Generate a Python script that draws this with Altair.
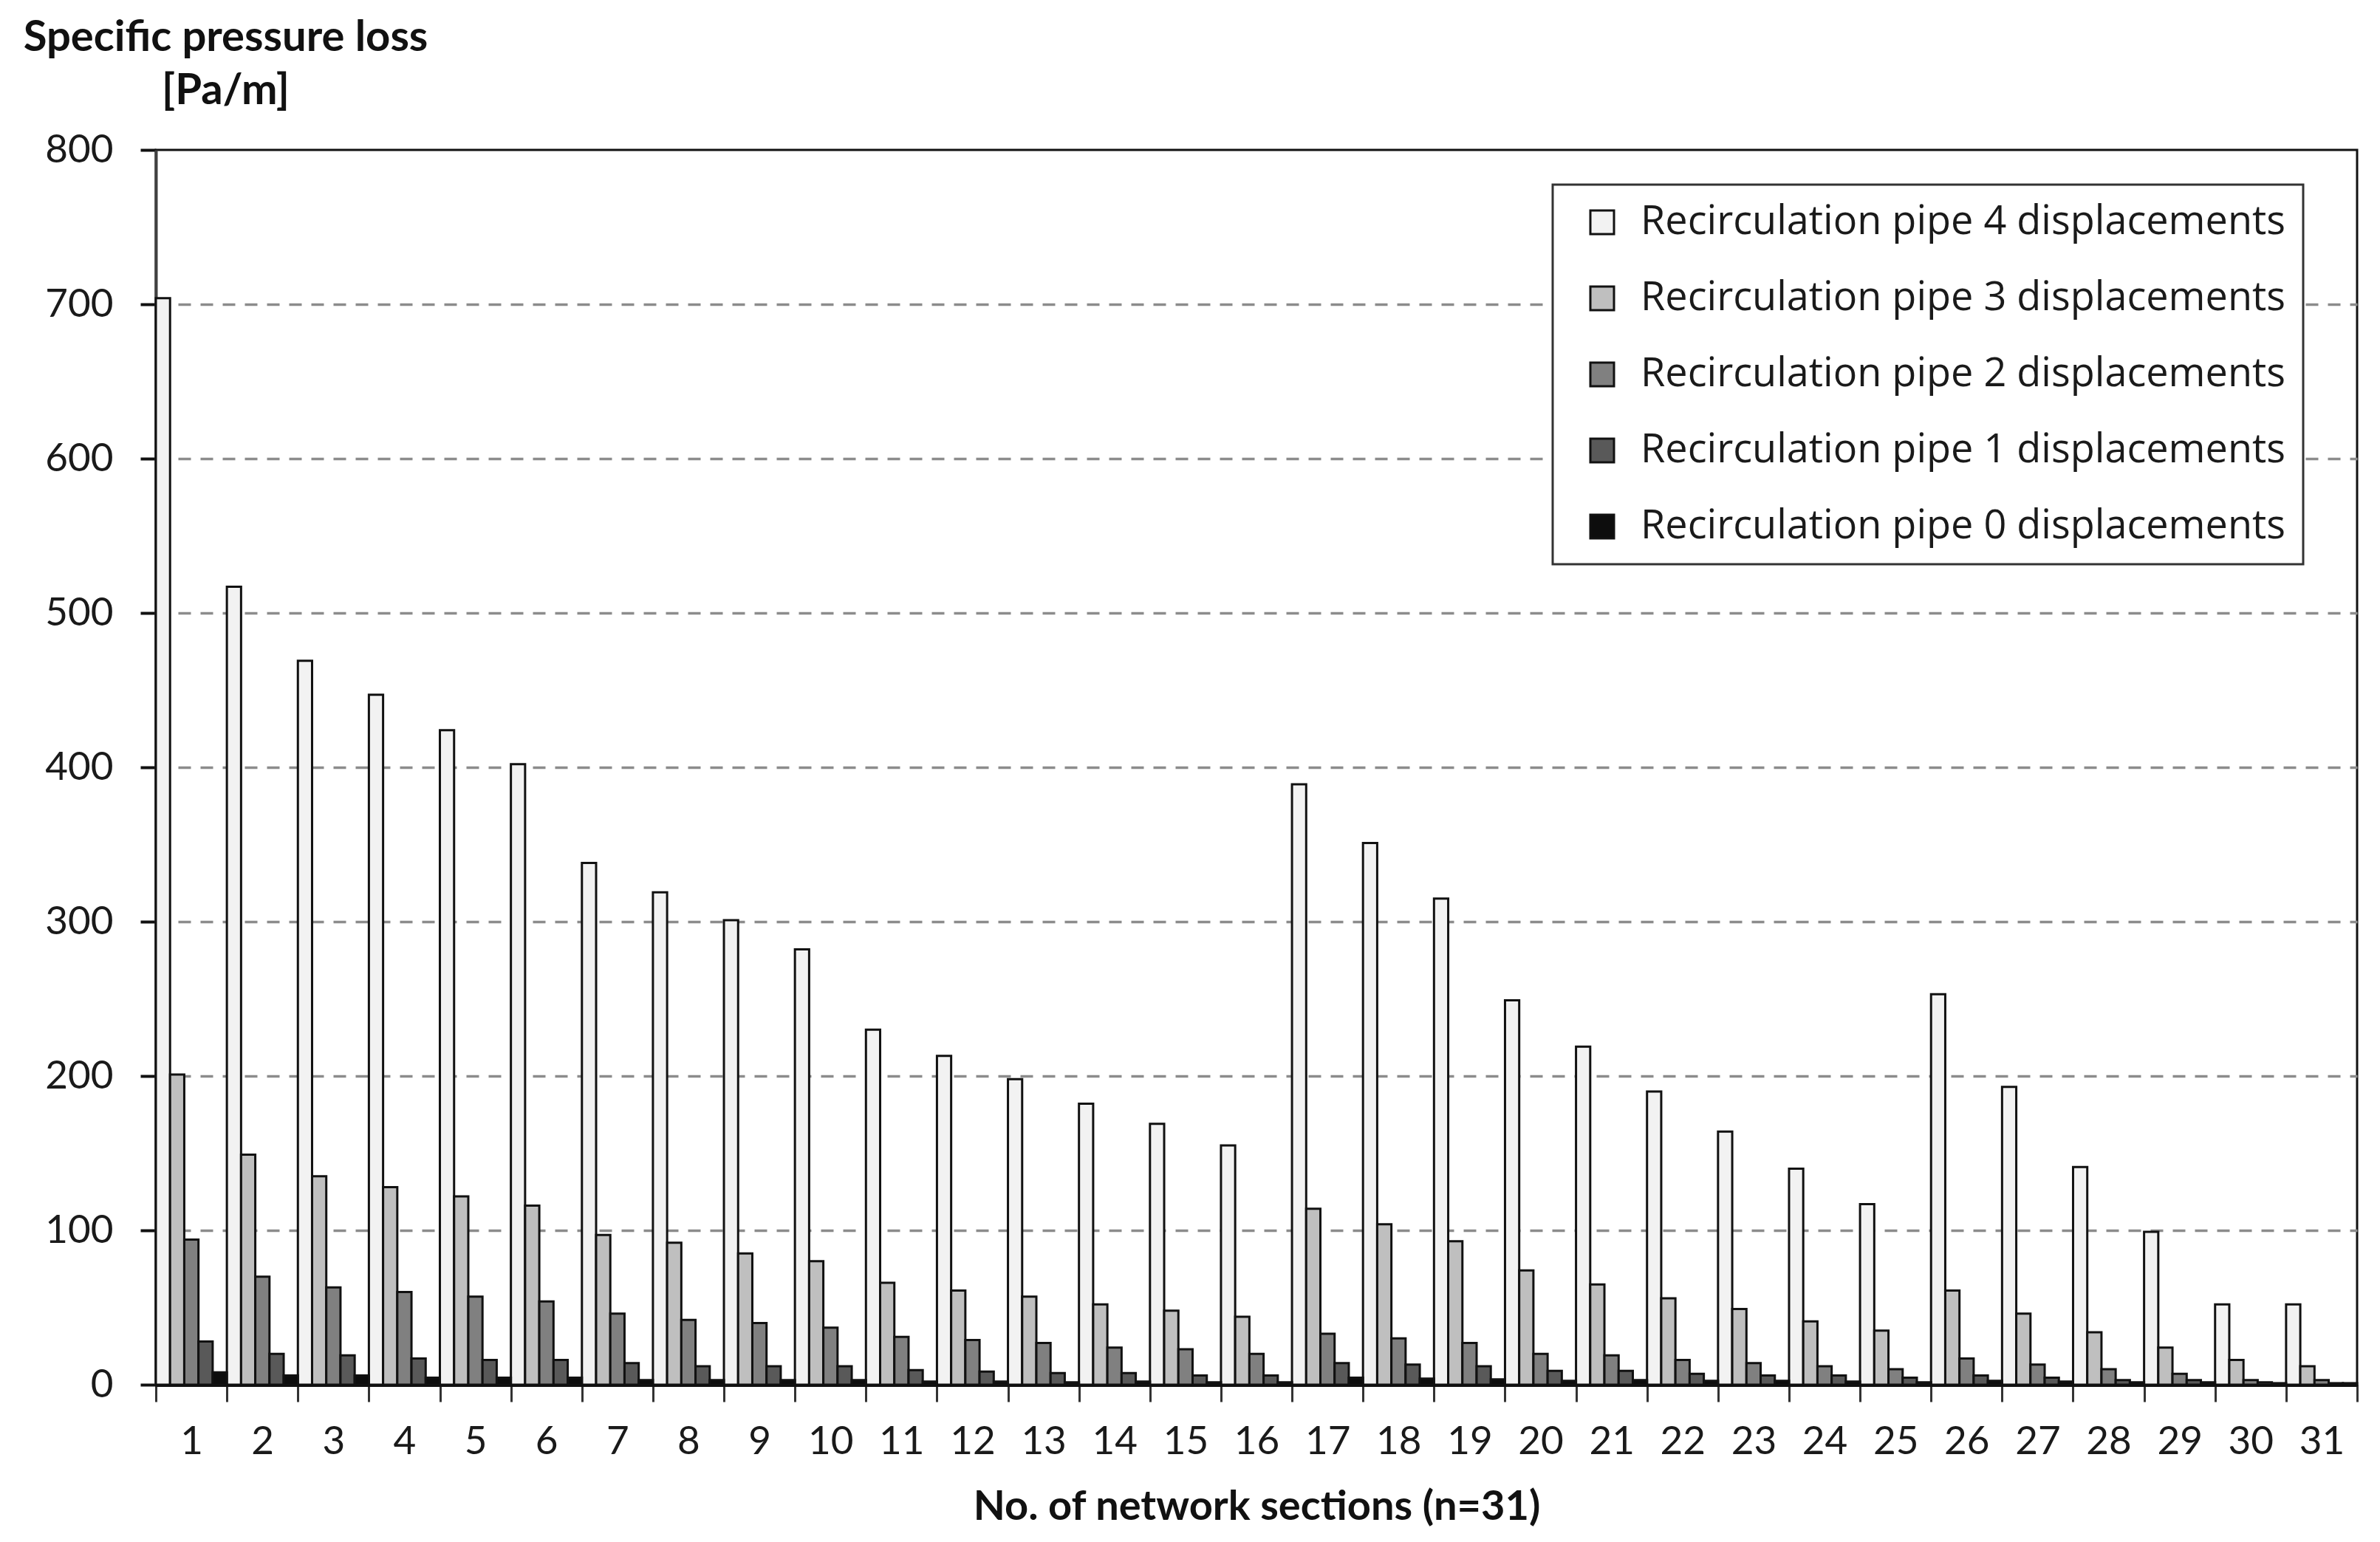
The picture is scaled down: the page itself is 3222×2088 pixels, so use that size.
import altair as alt
import pandas as pd

sections = list(range(1, 32))
series_names = [
    "Recirculation pipe 4 displacements",
    "Recirculation pipe 3 displacements",
    "Recirculation pipe 2 displacements",
    "Recirculation pipe 1 displacements",
    "Recirculation pipe 0 displacements",
]
colors = ["#f2f2f2", "#bfbfbf", "#808080", "#595959", "#0d0d0d"]

pipe4 = [704, 517, 469, 447, 424, 402, 338, 319, 301, 282, 230, 213, 198, 182, 169, 155,
         389, 351, 315, 249, 219, 190, 164, 140, 117, 253, 193, 141, 99, 52, 52]
pipe3 = [201, 149, 135, 128, 122, 116, 97, 92, 85, 80, 66, 61, 57, 52, 48, 44,
         114, 104, 93, 74, 65, 56, 49, 41, 35, 61, 46, 34, 24, 16, 12]
pipe2 = [94, 70, 63, 60, 57, 54, 46, 42, 40, 37, 31, 29, 27, 24, 23, 20,
         33, 30, 27, 20, 19, 16, 14, 12, 10, 17, 13, 10, 7, 3, 3]
pipe1 = [28, 20, 19, 17, 16, 16, 14, 12, 12, 12, 9.5, 8.5, 7.5, 7.5, 6, 6,
         14, 13, 12, 9, 9, 7, 6, 6, 4.5, 6, 4.5, 3, 3, 1.5, 1]
pipe0 = [8, 6, 6, 4.5, 4.5, 4.5, 3, 3, 3, 3, 2, 2, 1.5, 2, 1.5, 1.5,
         4.5, 4, 3.5, 2.5, 3, 2.5, 2.5, 2, 1.5, 2.5, 2, 1.5, 1.5, 1, 1]

y_ticks = [0, 100, 200, 300, 400, 500, 600, 700, 800]

rows = []
for name, vals in zip(series_names, [pipe4, pipe3, pipe2, pipe1, pipe0]):
    for sec, v in zip(sections, vals):
        rows.append({"section": sec, "series": name, "value": v})
df = pd.DataFrame(rows)

chart = alt.Chart(df).mark_bar(stroke="#111111", strokeWidth=3).encode(
    x=alt.X(
        "section:O",
        sort=sections,
        scale=alt.Scale(paddingInner=0, paddingOuter=0),
        axis=alt.Axis(
            title="No. of network sections (n=31)",
            labelAngle=0,
            tickBand="extent",
            labelFont="Lato",
            labelFontSize=53,
            labelColor="#1a1a1a",
            labelPadding=28,
            tickSize=23,
            tickWidth=3,
            tickColor="#333333",
            domainColor="#111111",
            domainWidth=5,
            grid=False,
            titleFont="Lato",
            titleFontWeight="bold",
            titleFontSize=56,
            titleColor="#111111",
            titleBaseline="alphabetic",
            titleY=182,
        ),
    ),
    xOffset=alt.XOffset("series:N", sort=series_names),
    y=alt.Y(
        "value:Q",
        scale=alt.Scale(domain=[0, 800], nice=False),
        axis=alt.Axis(
            values=y_ticks,
            title=["Specific pressure loss", "[Pa/m]"],
            titleAngle=0,
            titleAlign="center",
            titleBaseline="alphabetic",
            titleX=94,
            titleY=-135,
            titleLineHeight=72,
            titleFont="Lato",
            titleFontWeight="bold",
            titleFontSize=58,
            titleColor="#111111",
            labelFont="Lato",
            labelFontSize=53,
            labelColor="#1a1a1a",
            labelPadding=37,
            tickSize=21,
            tickWidth=4,
            tickColor="#111111",
            domainColor="#404040",
            domainWidth=4,
            grid=True,
            gridDash=[17, 13],
            gridColor="#8c8c8c",
            gridWidth=3.5,
            gridOpacity={"condition": {"test": "datum.value == 800 || datum.value == 0", "value": 0}, "value": 1},
        ),
    ),
    color=alt.Color(
        "series:N",
        sort=series_names,
        scale=alt.Scale(domain=series_names, range=colors),
        title=None,
        legend=alt.Legend(
            orient="none",
            legendX=1891,
            legendY=47,
            symbolType="square",
            symbolSize=1024,
            symbolStrokeColor="#111111",
            symbolStrokeWidth=3,
            symbolOffset=16,
            labelOffset=25,
            labelFont="Open Sans",
            labelFontSize=54,
            labelColor="#1a1a1a",
            labelLimit=2000,
            rowPadding=49,
            padding=24,
            strokeColor="#333333",
            fillColor="#ffffff",
        ),
    ),
).properties(
    width=2980,
    height=1672,
    padding={"left": 203, "top": 195, "right": 20, "bottom": 200},
    autosize=alt.AutoSizeParams(type="none"),
).configure_view(
    stroke="#111111",
    strokeWidth=3,
).configure_legend(
    strokeWidth=3,
)

chart.save("out.html", embed_options={"renderer": "svg", "actions": False})
